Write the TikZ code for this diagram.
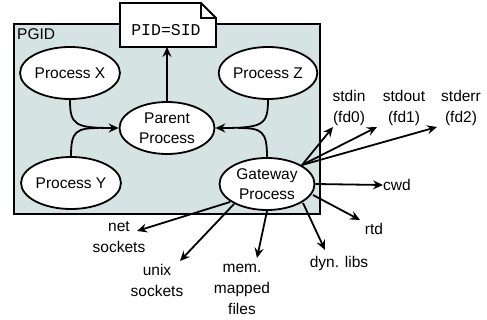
\documentclass[tikz,border=0pt]{standalone}
\usepackage{fontspec}
\setmainfont{Liberation Sans}
\newfontfamily\codefont{Liberation Mono}
\usetikzlibrary{arrows.meta,shapes.geometric}
\definecolor{groupfill}{HTML}{D6E3E3}
\tikzset{
  proc/.style={ellipse, draw, fill=white, line width=1.8pt, minimum width=95pt, minimum height=52pt, inner sep=0pt, align=center, font=\fontsize{15.5}{20}\selectfont},
  res/.style={align=center, font=\fontsize{15.5}{21}\selectfont, inner sep=0pt},
  link/.style={line width=1.8pt, -{Stealth[length=10pt,width=9pt,inset=3.5pt]}},
}
\begin{document}
\begin{tikzpicture}[x=1pt,y=-1pt]
\useasboundingbox (0,0) rectangle (487,320);
% process group
\draw[line width=1.8pt, fill=groupfill] (14,24) rectangle (320,214);
\node[anchor=west, font=\fontsize{15.5}{18}\selectfont, inner sep=0pt] (pgid) at (17,34) {PGID};
% session note with folded corner
\draw[line width=1.8pt, fill=white] (120,3) -- (201,3) -- (216,18) -- (216,47) -- (120,47) -- cycle;
\draw[line width=1.2pt] (201,3) -- (201,18) -- (216,18);
\node[font=\codefont\fontsize{16.5}{18}\selectfont, inner sep=0pt] (note) at (166,30) {PID=SID};
\coordinate (notebot) at (167,47);
% processes
\node[proc] (px) at (70,73) {Process X};
\node[proc] (pz) at (268,73) {Process Z};
\node[proc] (pp) at (167,128) {Parent\\Process};
\node[proc] (py) at (71,183) {Process Y};
\node[proc] (pg) at (267,184) {Gateway\\Process};
% edges to parent
\draw[link] (px.south) .. controls (70,125) and (75,128) .. (pp.west);
\draw[line width=1.8pt] (py.north) .. controls (71,131) and (76,128) .. (100,128);
\draw[link] (pz.south) .. controls (268,125) and (263,128) .. (pp.east);
\draw[line width=1.8pt] (pg.north) .. controls (267,131) and (262,128) .. (238,128);
\draw[link] (pp.north) -- (notebot);
% resources
\node[res] (stdin) at (349,108) {stdin\\(fd0)};
\node[res] (stdout) at (404,108) {stdout\\(fd1)};
\node[res] (stderr) at (461,108) {stderr\\(fd2)};
\node[res, anchor=west] (cwd) at (383,185) {cwd};
\node[res] (rtd) at (374,229) {rtd};
\node[res] (dyn) at (339,263) {dyn. libs};
\node[res] (mem) at (242,289) {mem.\\mapped\\files};
\node[res] (unix) at (157,280) {unix\\sockets};
\node[res] (net) at (119,237) {net\\sockets};
\coordinate (gs) at (302,165);
\draw[link] (gs) -- (333,127);
\draw[link] (gs) -- (377,127);
\draw[link] (gs) -- (437,127);
\draw[link] (pg.east) -- (cwd.west);
\draw[link] (313,195) -- (360,220);
\draw[link] (303,203) -- (325,250);
\draw[link] (267,211) -- (257,258);
\draw[link] (234,204) -- (180,261);
\draw[link] (230,202) -- (137,231);
\end{tikzpicture}
\end{document}
